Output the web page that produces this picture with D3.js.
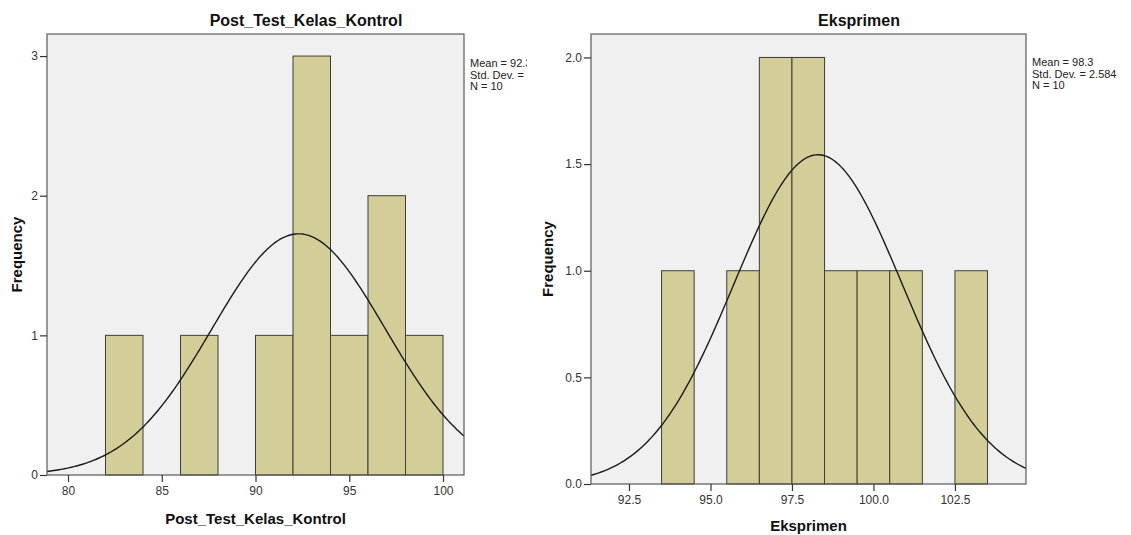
<!DOCTYPE html>
<html>
<head>
<meta charset="utf-8">
<script src="https://cdn.jsdelivr.net/npm/d3@7"></script>
<style>
  body { margin: 0; background: #fff; }
  text { font-family: "Liberation Sans", Arial, sans-serif; }
</style>
</head>
<body>
<div id="chart"></div>
<script>
var width = 1131;
var height = 535;

// Post_Test_Kelas_Kontrol - bin start, count (bin width 2)
var kontrolBins = [82, 86, 90, 92, 94, 96, 98];
var kontrolCounts = [1, 1, 1, 3, 1, 2, 1];
var kontrolBinWidth = 2;
var kontrolMean = 92.3;
var kontrolSD = 4.62;
var kontrolN = 10;
var kontrolXTicks = [80, 85, 90, 95, 100];
var kontrolYTicks = [0, 1, 2, 3];
var kontrolLegend = ["Mean = 92.3", "Std. Dev. = 4.620", "N = 10"];

// Eksprimen - bin start, count (bin width 1)
var eksBins = [93.5, 95.5, 96.5, 97.5, 98.5, 99.5, 100.5, 102.5];
var eksCounts = [1, 1, 2, 2, 1, 1, 1, 1];
var eksBinWidth = 1;
var eksMean = 98.3;
var eksSD = 2.584;
var eksN = 10;
var eksXTicks = [92.5, 95, 97.5, 100, 102.5];
var eksYTicks = [0, 0.5, 1, 1.5, 2];
var eksLegend = ["Mean = 98.3", "Std. Dev. = 2.584", "N = 10"];

var svg = d3.select('#chart')
            .append('svg')
            .attr('width', width)
            .attr('height', height);

// the left chart's legend is cut off at the edge of its panel
svg.append('clipPath').attr('id', 'clipLeft')
   .append('rect').attr('x', 0).attr('y', 0).attr('width', 527).attr('height', height);

function drawPanel(o) {
  var g = svg.append('g');
  var x = d3.scaleLinear().domain(o.xDomain).range([o.left, o.right]);
  var y = d3.scaleLinear().domain([0, o.yMax]).range([o.bottom, o.top]);

  // plot background
  g.append('rect')
    .attr('x', o.left).attr('y', o.top)
    .attr('width', o.right - o.left).attr('height', o.bottom - o.top)
    .attr('fill', '#f0f0f0');

  var bars = o.bins.map(function(b, i) { return {x0: b, x1: b + o.binWidth, n: o.counts[i]}; });
  g.append('g').selectAll('rect')
    .data(bars)
    .enter()
    .append('rect')
    .attr('x', function(d) { return x(d.x0); })
    .attr('y', function(d) { return y(d.n); })
    .attr('width', function(d) { return x(d.x1) - x(d.x0); })
    .attr('height', function(d) { return y(0) - y(d.n); })
    .attr('fill', '#d3ce97')
    .attr('stroke', '#3d3d3d')
    .attr('stroke-width', 1);

  // normal curve from mean / std dev, scaled to counts
  var peak = o.n * o.binWidth / (o.sd * Math.sqrt(2 * Math.PI));
  var pts = d3.range(0, 241).map(function(i) {
    var v = o.xDomain[0] + (o.xDomain[1] - o.xDomain[0]) * i / 240;
    return [v, peak * Math.exp(-0.5 * Math.pow((v - o.mean) / o.sd, 2))];
  });
  g.append('path')
    .datum(pts)
    .attr('d', d3.line().x(function(d) { return x(d[0]); }).y(function(d) { return y(d[1]); }))
    .attr('fill', 'none')
    .attr('stroke', '#1a1a1a')
    .attr('stroke-width', 1.4);

  // plot frame
  g.append('rect')
    .attr('x', o.left).attr('y', o.top)
    .attr('width', o.right - o.left).attr('height', o.bottom - o.top)
    .attr('fill', 'none')
    .attr('stroke', '#595959')
    .attr('stroke-width', 1.2);

  var xAxis = d3.axisBottom(x).tickValues(o.xTicks).tickFormat(o.xFormat).tickSize(7).tickPadding(4);
  var yAxis = d3.axisLeft(y).tickValues(o.yTicks).tickFormat(o.yFormat).tickSize(7).tickPadding(2);

  var gx = g.append('g').attr('transform', 'translate(0,' + o.bottom + ')').call(xAxis);
  var gy = g.append('g').attr('transform', 'translate(' + o.left + ',0)').call(yAxis);
  [gx, gy].forEach(function(a) {
    a.select('.domain').remove();
    a.selectAll('line').attr('stroke', '#333').attr('stroke-width', 1.2);
    a.selectAll('text').attr('fill', '#333').style('font-size', '12px');
  });

  // title
  g.append('text')
    .attr('x', o.titleX).attr('y', 26)
    .attr('text-anchor', 'middle')
    .style('font-size', '16px').style('font-weight', 'bold')
    .attr('fill', '#111')
    .text(o.title);

  // x axis title
  g.append('text')
    .attr('x', (o.left + o.right) / 2).attr('y', o.xLabelY)
    .attr('text-anchor', 'middle')
    .style('font-size', '15px').style('font-weight', 'bold')
    .attr('fill', '#111')
    .text(o.title);

  // y axis title
  g.append('text')
    .attr('transform', 'translate(' + o.yLabelX + ',' + ((o.top + o.bottom) / 2) + ') rotate(-90)')
    .attr('text-anchor', 'middle')
    .style('font-size', '15px').style('font-weight', 'bold')
    .attr('fill', '#111')
    .text('Frequency');

  // stats legend
  var lg = g.append('g');
  if (o.clip) lg.attr('clip-path', 'url(#' + o.clip + ')');
  lg.selectAll('text')
    .data(o.legend)
    .enter()
    .append('text')
    .attr('x', o.right + 6)
    .attr('y', function(d, i) { return o.legendY + i * 11.5; })
    .style('font-size', '11px')
    .attr('fill', '#222')
    .text(function(d) { return d; });
}

drawPanel({
  left: 47, right: 464, top: 34, bottom: 475,
  xDomain: [78.88, 101.12], yMax: 3.158,
  bins: kontrolBins, counts: kontrolCounts, binWidth: kontrolBinWidth,
  mean: kontrolMean, sd: kontrolSD, n: kontrolN,
  xTicks: kontrolXTicks, yTicks: kontrolYTicks,
  xFormat: d3.format('d'), yFormat: d3.format('d'),
  title: 'Post_Test_Kelas_Kontrol', titleX: 306, xLabelY: 524, yLabelX: 22,
  legend: kontrolLegend, legendY: 67, clip: 'clipLeft'
});

drawPanel({
  left: 591, right: 1026, top: 34, bottom: 484,
  xDomain: [91.335, 104.68], yMax: 2.11,
  bins: eksBins, counts: eksCounts, binWidth: eksBinWidth,
  mean: eksMean, sd: eksSD, n: eksN,
  xTicks: eksXTicks, yTicks: eksYTicks,
  xFormat: d3.format('.1f'), yFormat: d3.format('.1f'),
  title: 'Eksprimen', titleX: 859, xLabelY: 531, yLabelX: 553,
  legend: eksLegend, legendY: 66, clip: null
});
</script>
</body>
</html>
